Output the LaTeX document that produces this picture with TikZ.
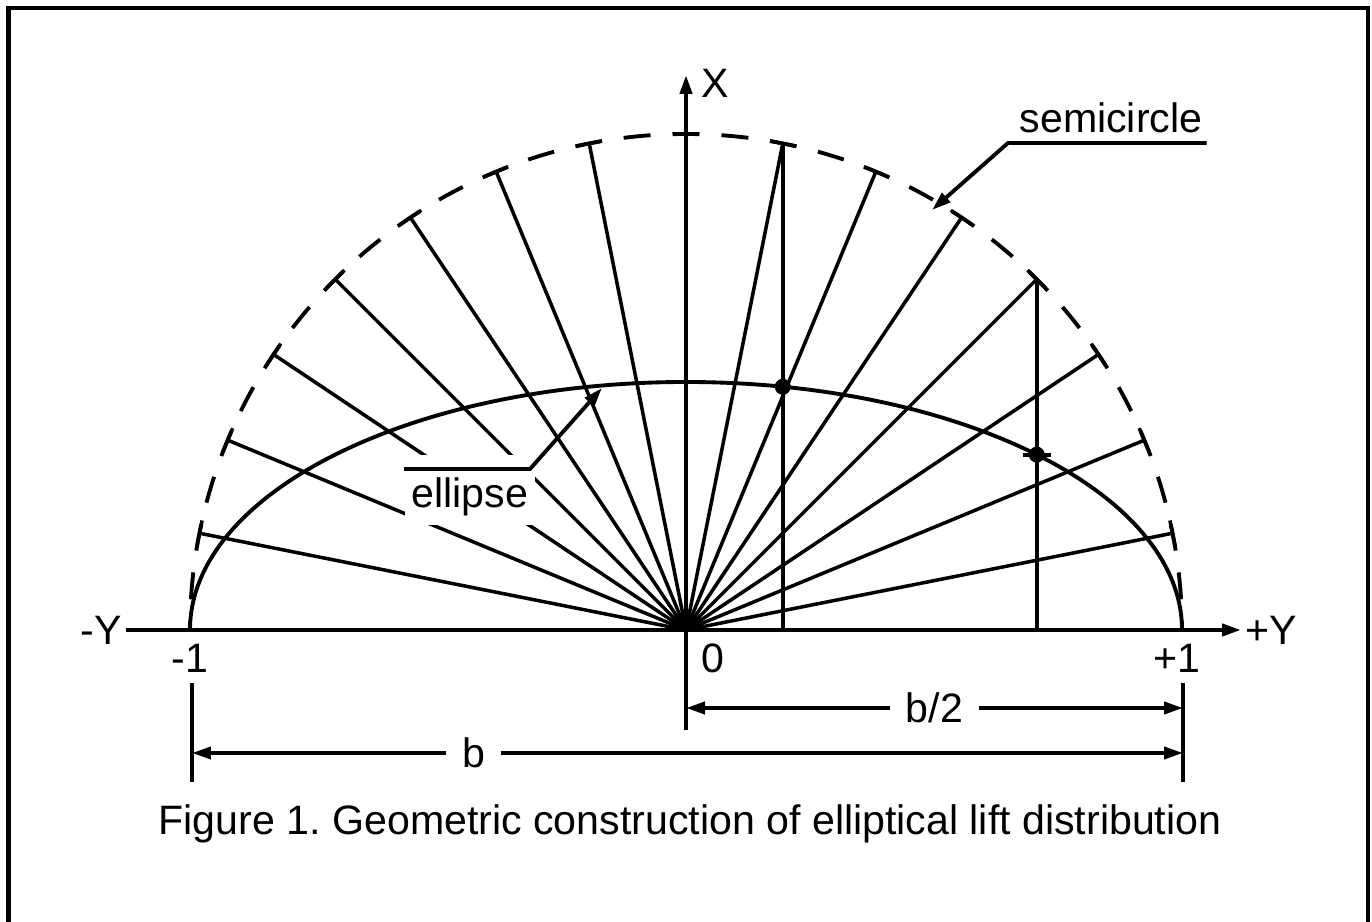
\documentclass[tikz,border=0pt]{standalone}
\usepackage{fontspec}
\setmainfont{Liberation Sans}
\usetikzlibrary{arrows.meta,positioning,calc}
\tikzset{
 ray/.style={line width=1pt},
 axis/.style={line width=1.2pt,->},
 dim/.style={line width=1.1pt,<->},
 lbl/.style={inner sep=1pt},
 gaplbl/.style={fill=white,inner ysep=1pt,inner xsep=4.5pt},
 semidash/.style={line width=1.1pt,dash pattern=on .27cm off .22cm,dash phase=.135cm}
}

\begin{document}
\begin{tikzpicture}[x=1cm,y=1cm,>={Triangle[length=1.9mm,width=1.2mm]},font=\fontsize{11.7}{14}\selectfont]
 \useasboundingbox (-6.86,-2.92) rectangle (6.86,6.30);
 \draw[line width=1.4pt] (-6.775,-3) |- (6.82,6.22) -- (6.82,-3);
 \coordinate (o) at (0,0);
 % semicircle and ellipse
 \draw[semidash] (0,4.96) arc[start angle=90,end angle=0,radius=4.96];
 \draw[semidash] (0,4.96) arc[start angle=90,end angle=180,radius=4.96];
 \draw[line width=1.1pt] (4.96,0) arc[start angle=0,end angle=180,x radius=4.96,y radius=2.48];
 % rays, tick at the end of each
 \foreach \k in {1,...,7,9,10,...,15}{
  \draw[ray,rotate=\k*11.25] (o)--(4.96,0) (4.96,-.13)--(4.96,.13);}
 % projections down to the axis
 \foreach \k in {4,7}{
  \coordinate (s\k) at (\k*11.25:4.96);
  \coordinate (e\k) at (\k*11.25:4.96 and 2.48);
  \draw[line width=1.2pt] (s\k)--(s\k|-o);
  \fill (e\k) circle(.08);}
 \draw[line width=1.1pt] ($(e4)+(-.14,0)$)--($(e4)+(.14,0)$);
 % axes
 \node[lbl,anchor=east] (ym) at (-5.6,0) {-Y};
 \node[lbl,anchor=west] (yp) at (5.55,0) {+Y};
 \draw[axis] (ym)--(yp);
 \coordinate (xb) at (0,-1);
 \coordinate (xt) at (0,5.55);
 \draw[axis] (xb)--(xt);
 \node[lbl] (xl) at (.29,5.47) {X};
 \node[lbl] (m1) at (-4.96,-.285) {-1};
 \node[lbl] (z0) at (.27,-.285) {0};
 \node[lbl] (p1) at (4.91,-.285) {+1};
 % span
 \coordinate (lt) at (-4.94,-.53); \coordinate (lb) at (-4.94,-1.52);
 \coordinate (rt) at (4.97,-.53);  \coordinate (rb) at (4.97,-1.52);
 \draw[line width=1.1pt] (lt)--(lb) (rt)--(rb);
 \draw[dim] (0,-.78)--node[gaplbl]{b/2}(4.97,-.78);
 \draw[dim] (-4.94,-1.23)--node[gaplbl,pos=.284]{b}(4.97,-1.23);
 % callouts
 \node[anchor=base,fill=white,inner xsep=.07cm,inner ysep=.08cm,text height=.45cm] (ell) at (-2.16,1.22) {ellipse};
 \coordinate (elk) at (-1.56,1.61); \coordinate (elt) at (-.84,2.42);
 \draw[->,line width=1.1pt] (elk-|ell.west)--(elk)--(elt);
 \node[lbl,anchor=base] (sc) at (4.25,4.97) {semicircle};
 \coordinate (sck) at (3.22,4.87); \coordinate (sct) at (2.46,4.20);
 \draw[->,line width=1.1pt] (sck-|sc.east)--(sck)--(sct);
 \node[anchor=base] (cap) at (.04,-2.05) {Figure 1.\ Geometric construction of elliptical lift distribution};
\end{tikzpicture}
\end{document}
